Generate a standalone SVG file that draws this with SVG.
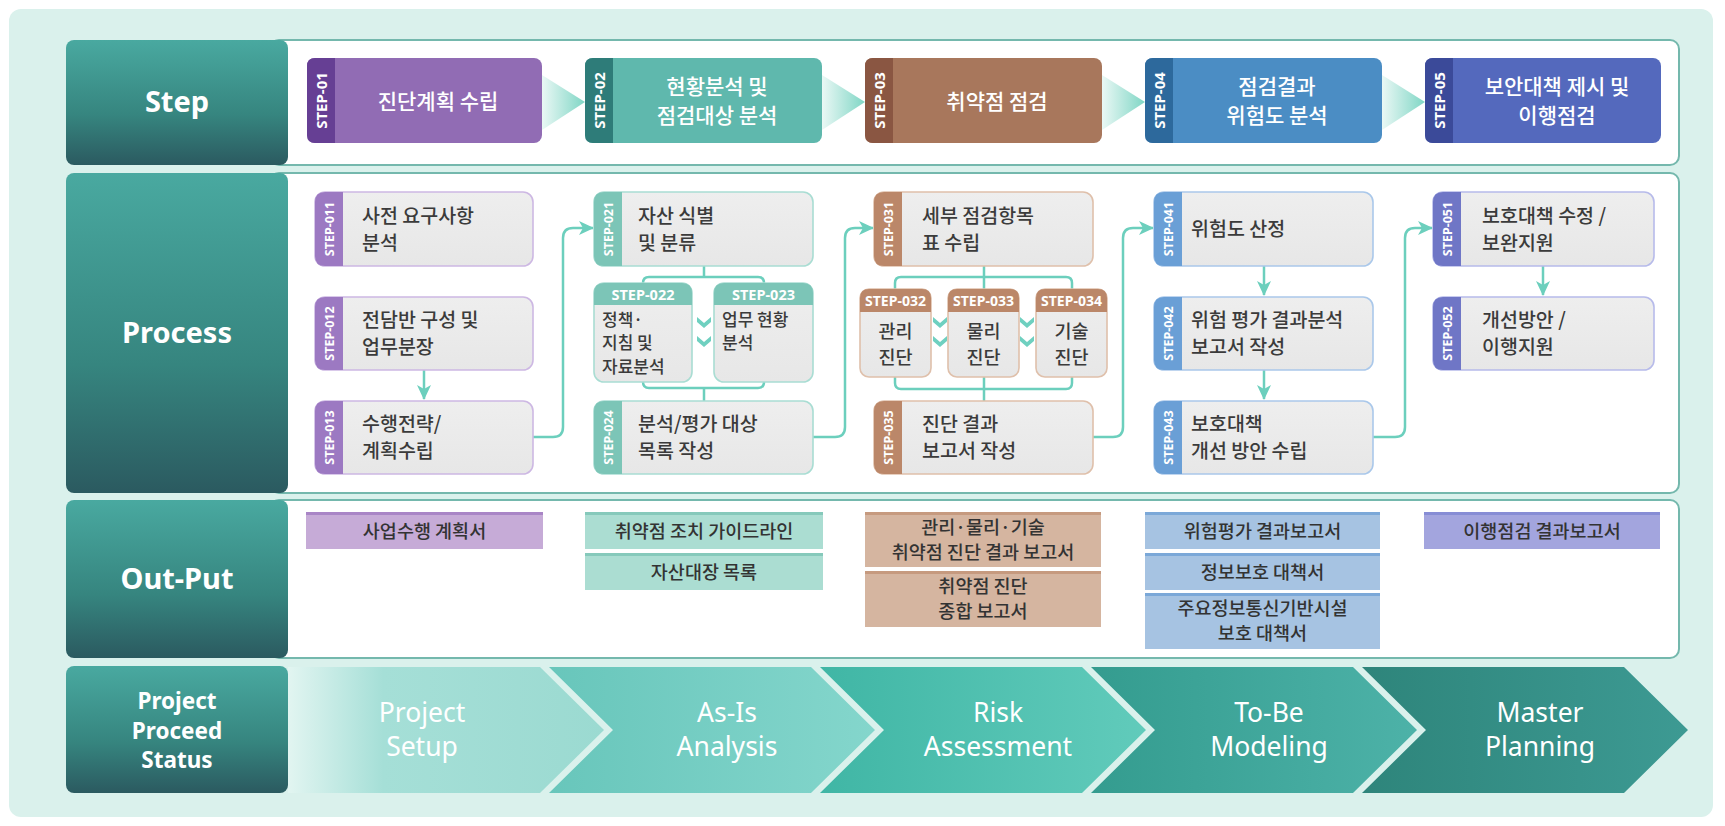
<svg xmlns="http://www.w3.org/2000/svg" width="1725" height="826" viewBox="0 0 1725 826">
<defs>
<style>
.lbl{font-family:"Noto Sans","Noto Sans CJK KR",sans-serif;font-weight:700;fill:#fff;text-anchor:middle}
.st{font-family:"Noto Sans CJK KR","Noto Sans",sans-serif;font-weight:500;font-size:21px;fill:#fff;text-anchor:middle}
.vt{font-family:"Noto Sans","Noto Sans CJK KR",sans-serif;font-weight:700;fill:#fff;text-anchor:middle;dominant-baseline:central}
.pt{font-family:"Noto Sans CJK KR","Noto Sans",sans-serif;font-weight:500;font-size:19.5px;fill:#3b3b3b}
.pts{font-family:"Noto Sans CJK KR","Noto Sans",sans-serif;font-weight:500;font-size:17px;fill:#3b3b3b}
.ptc{font-family:"Noto Sans CJK KR","Noto Sans",sans-serif;font-weight:500;font-size:18.5px;fill:#3b3b3b;text-anchor:middle}
.ht{font-family:"Noto Sans","Noto Sans CJK KR",sans-serif;font-weight:700;fill:#fff;text-anchor:middle}
.ot{font-family:"Noto Sans CJK KR","Noto Sans",sans-serif;font-weight:500;font-size:18.5px;fill:#333;text-anchor:middle}
.ct{font-family:"Noto Sans","Noto Sans CJK KR",sans-serif;font-weight:400;font-size:26.5px;fill:#fff;text-anchor:middle}
.panel{fill:#fff;stroke:#74b8ad;stroke-width:2}
.pbox{fill:url(#gbox);stroke-width:1.6}
.conn{fill:none;stroke:#6ccfbd;stroke-width:2.5}
</style>
<linearGradient id="glab" x1="0" y1="0" x2="0" y2="1"><stop offset="0" stop-color="#49a9a0"/><stop offset="0.6" stop-color="#36857f"/><stop offset="1" stop-color="#2b5a60"/></linearGradient>
<linearGradient id="gbox" x1="0" y1="0" x2="0" y2="1"><stop offset="0" stop-color="#eeeeee"/><stop offset="1" stop-color="#e7e7e7"/></linearGradient>
<linearGradient id="gtri" x1="0" y1="0" x2="1" y2="0"><stop offset="0" stop-color="#eaf8f5"/><stop offset="1" stop-color="#7fd6c5"/></linearGradient>
<linearGradient id="gc1" gradientUnits="userSpaceOnUse" x1="288" y1="0" x2="606" y2="0"><stop offset="0" stop-color="#e2f5f1"/><stop offset="0.3" stop-color="#a5dfd7"/><stop offset="1" stop-color="#9bdad1"/></linearGradient>
<linearGradient id="gc2" gradientUnits="userSpaceOnUse" x1="549" y1="0" x2="875" y2="0"><stop offset="0" stop-color="#68c6bb"/><stop offset="1" stop-color="#84d6cc"/></linearGradient>
<linearGradient id="gc3" gradientUnits="userSpaceOnUse" x1="820" y1="0" x2="1146" y2="0"><stop offset="0" stop-color="#40b6a5"/><stop offset="1" stop-color="#61cbbb"/></linearGradient>
<linearGradient id="gc4" gradientUnits="userSpaceOnUse" x1="1091" y1="0" x2="1417" y2="0"><stop offset="0" stop-color="#349c8f"/><stop offset="1" stop-color="#4db2a8"/></linearGradient>
<linearGradient id="gc5" gradientUnits="userSpaceOnUse" x1="1362" y1="0" x2="1688" y2="0"><stop offset="0" stop-color="#2e857b"/><stop offset="1" stop-color="#3d9a93"/></linearGradient>
<marker id="ah" markerUnits="userSpaceOnUse" markerWidth="16" markerHeight="16" refX="14" refY="8" orient="auto"><path d="M0,1 L15,8 L0,15 L4,8 Z" fill="#6ccfbd"/></marker>
<path id="dv" d="M-7,-5 L0,1 L7,-5 L7,0 L0,6 L-7,0 Z" fill="#6fd0c0"/>
</defs>

<rect x="9" y="9" width="1704" height="808" rx="12" fill="#daf1ec"/>

<g id="panels">
<rect class="panel" x="270" y="40" width="1409" height="125" rx="9"/>
<rect class="panel" x="270" y="173" width="1409" height="320" rx="9"/>
<rect class="panel" x="270" y="500" width="1409" height="158" rx="9"/>
</g>

<g id="row-step"><rect x="66" y="40" width="222" height="125" rx="8" fill="url(#glab)"/><text class="lbl" x="177" y="112" font-size="29">Step</text></g>
<g id="row-process"><rect x="66" y="173" width="222" height="320" rx="8" fill="url(#glab)"/><text class="lbl" x="177" y="343" font-size="29">Process</text></g>
<g id="row-output"><rect x="66" y="500" width="222" height="158" rx="8" fill="url(#glab)"/><text class="lbl" x="177" y="589" font-size="29">Out-Put</text></g>
<g id="row-status"><rect x="66" y="666" width="222" height="127" rx="8" fill="url(#glab)"/><text class="lbl" font-size="22.5"><tspan x="177" y="709">Project</tspan><tspan x="177" y="738.5">Proceed</tspan><tspan x="177" y="768">Status</tspan></text></g>

<g id="step-arrows">
<polygon points="542,75 585,102 542,130" fill="url(#gtri)"/>
<polygon points="822,75 865,102 822,130" fill="url(#gtri)"/>
<polygon points="1102,75 1145,102 1102,130" fill="url(#gtri)"/>
<polygon points="1382,75 1425,102 1382,130" fill="url(#gtri)"/>
</g>

<g id="step-01"><rect x="307" y="58" width="235" height="85" rx="8" fill="#916cb4"/><path d="M335,58 H315 Q307,58 307,66 V135 Q307,143 315,143 H335 Z" fill="#663f94"/><text class="vt" font-size="15" transform="translate(321,100.5) rotate(-90)">STEP-01</text><text class="st" x="438" y="109">진단계획 수립</text></g>
<g id="step-02"><rect x="585" y="58" width="237" height="85" rx="8" fill="#5fb8ad"/><path d="M613,58 H593 Q585,58 585,66 V135 Q585,143 593,143 H613 Z" fill="#2e7c79"/><text class="vt" font-size="15" transform="translate(599,100.5) rotate(-90)">STEP-02</text><text class="st"><tspan x="717" y="94">현황분석 및</tspan><tspan x="717" y="123">점검대상 분석</tspan></text></g>
<g id="step-03"><rect x="865" y="58" width="237" height="85" rx="8" fill="#a8775c"/><path d="M893,58 H873 Q865,58 865,66 V135 Q865,143 873,143 H893 Z" fill="#8a5642"/><text class="vt" font-size="15" transform="translate(879,100.5) rotate(-90)">STEP-03</text><text class="st" x="997" y="109">취약점 점검</text></g>
<g id="step-04"><rect x="1145" y="58" width="237" height="85" rx="8" fill="#4b8dc4"/><path d="M1173,58 H1153 Q1145,58 1145,66 V135 Q1145,143 1153,143 H1173 Z" fill="#2d699c"/><text class="vt" font-size="15" transform="translate(1159,100.5) rotate(-90)">STEP-04</text><text class="st"><tspan x="1277" y="94">점검결과</tspan><tspan x="1277" y="123">위험도 분석</tspan></text></g>
<g id="step-05"><rect x="1425" y="58" width="236" height="85" rx="8" fill="#5469bd"/><path d="M1453,58 H1433 Q1425,58 1425,66 V135 Q1425,143 1433,143 H1453 Z" fill="#3b4a99"/><text class="vt" font-size="15" transform="translate(1439,100.5) rotate(-90)">STEP-05</text><text class="st"><tspan x="1557" y="94">보안대책 제시 및</tspan><tspan x="1557" y="123">이행점검</tspan></text></g>

<g id="connectors">
<path class="conn" d="M424,370 V399" marker-end="url(#ah)"/>
<path class="conn" d="M533,437 H553 Q563,437 563,427 V238 Q563,228 573,228 H593" marker-end="url(#ah)"/>
<path class="conn" d="M704,266 V277 M643,283 Q643,277 649,277 H758 Q764,277 764,283"/>
<path class="conn" d="M643,382 Q643,388 649,388 H758 Q764,388 764,382 M704,388 V401"/>
<path class="conn" d="M813,437 H835 Q845,437 845,427 V238 Q845,228 855,228 H873" marker-end="url(#ah)"/>
<path class="conn" d="M984,266 V289 M895,289 V283 Q895,277 901,277 H1066 Q1072,277 1072,283 V289"/>
<path class="conn" d="M895,377 V383 Q895,389 901,389 H1066 Q1072,389 1072,383 V377 M984,377 V401"/>
<path class="conn" d="M1093,437 H1113 Q1123,437 1123,427 V238 Q1123,228 1133,228 H1153" marker-end="url(#ah)"/>
<path class="conn" d="M1264,266 V295" marker-end="url(#ah)"/>
<path class="conn" d="M1264,370 V399" marker-end="url(#ah)"/>
<path class="conn" d="M1373,437 H1395 Q1405,437 1405,427 V238 Q1405,228 1415,228 H1432" marker-end="url(#ah)"/>
<path class="conn" d="M1543,266 V295" marker-end="url(#ah)"/>
<use href="#dv" x="704" y="322"/><use href="#dv" x="704" y="341"/>
<use href="#dv" x="940" y="322"/><use href="#dv" x="940" y="341"/>
<use href="#dv" x="1027" y="322"/><use href="#dv" x="1027" y="341"/>
</g>

<g id="step-011"><rect class="pbox" x="315" y="192" width="218" height="74" rx="10" stroke="#cdb8e3"/><path d="M343,192 H325 Q315,192 315,202 V256 Q315,266 325,266 H343 Z" fill="#9c79c2"/><text class="vt" font-size="12.5" transform="translate(329,229) rotate(-90)">STEP-011</text><text class="pt"><tspan x="362" y="222.5">사전 요구사항</tspan><tspan x="362" y="249.5">분석</tspan></text></g>
<g id="step-012"><rect class="pbox" x="315" y="297" width="218" height="73" rx="10" stroke="#cdb8e3"/><path d="M343,297 H325 Q315,297 315,307 V360 Q315,370 325,370 H343 Z" fill="#9c79c2"/><text class="vt" font-size="12.5" transform="translate(329,333.5) rotate(-90)">STEP-012</text><text class="pt"><tspan x="362" y="327">전담반 구성 및</tspan><tspan x="362" y="354">업무분장</tspan></text></g>
<g id="step-013"><rect class="pbox" x="315" y="401" width="218" height="73" rx="10" stroke="#cdb8e3"/><path d="M343,401 H325 Q315,401 315,411 V464 Q315,474 325,474 H343 Z" fill="#9c79c2"/><text class="vt" font-size="12.5" transform="translate(329,437.5) rotate(-90)">STEP-013</text><text class="pt"><tspan x="362" y="431">수행전략/</tspan><tspan x="362" y="458">계획수립</tspan></text></g>

<g id="step-021"><rect class="pbox" x="594" y="192" width="219" height="74" rx="10" stroke="#a9ddd3"/><path d="M622,192 H604 Q594,192 594,202 V256 Q594,266 604,266 H622 Z" fill="#7cc5b7"/><text class="vt" font-size="12.5" transform="translate(608,229) rotate(-90)">STEP-021</text><text class="pt"><tspan x="638" y="222.5">자산 식별</tspan><tspan x="638" y="249.5">및 분류</tspan></text></g>
<g id="step-022"><rect class="pbox" x="594" y="283" width="98" height="99" rx="10" stroke="#a9ddd3"/><path d="M594,305 V293 Q594,283 604,283 H682 Q692,283 692,293 V305 Z" fill="#7cc5b7"/><text class="ht" font-size="14.5" x="643" y="299.5">STEP-022</text><text class="pts"><tspan x="602" y="325.5">정책·</tspan><tspan x="602" y="349">지침 및</tspan><tspan x="602" y="372.5">자료분석</tspan></text></g>
<g id="step-023"><rect class="pbox" x="714" y="283" width="99" height="99" rx="10" stroke="#a9ddd3"/><path d="M714,305 V293 Q714,283 724,283 H803 Q813,283 813,293 V305 Z" fill="#7cc5b7"/><text class="ht" font-size="14.5" x="763.5" y="299.5">STEP-023</text><text class="pts"><tspan x="722" y="325.5">업무 현황</tspan><tspan x="722" y="349">분석</tspan></text></g>
<g id="step-024"><rect class="pbox" x="594" y="401" width="219" height="73" rx="10" stroke="#a9ddd3"/><path d="M622,401 H604 Q594,401 594,411 V464 Q594,474 604,474 H622 Z" fill="#7cc5b7"/><text class="vt" font-size="12.5" transform="translate(608,437.5) rotate(-90)">STEP-024</text><text class="pt"><tspan x="638" y="431">분석/평가 대상</tspan><tspan x="638" y="458">목록 작성</tspan></text></g>

<g id="step-031"><rect class="pbox" x="874" y="192" width="219" height="74" rx="10" stroke="#dfc0ab"/><path d="M902,192 H884 Q874,192 874,202 V256 Q874,266 884,266 H902 Z" fill="#bb8769"/><text class="vt" font-size="12.5" transform="translate(888,229) rotate(-90)">STEP-031</text><text class="pt"><tspan x="922" y="222.5">세부 점검항목</tspan><tspan x="922" y="249.5">표 수립</tspan></text></g>
<g id="step-032"><rect class="pbox" x="860" y="289" width="71" height="88" rx="9" stroke="#dfc0ab"/><path d="M860,312 V298 Q860,289 869,289 H922 Q931,289 931,298 V312 Z" fill="#bb8769"/><text class="ht" font-size="14" x="895.5" y="305.5">STEP-032</text><text class="ptc"><tspan x="895.5" y="338">관리</tspan><tspan x="895.5" y="363.5">진단</tspan></text></g>
<g id="step-033"><rect class="pbox" x="948" y="289" width="71" height="88" rx="9" stroke="#dfc0ab"/><path d="M948,312 V298 Q948,289 957,289 H1010 Q1019,289 1019,298 V312 Z" fill="#bb8769"/><text class="ht" font-size="14" x="983.5" y="305.5">STEP-033</text><text class="ptc"><tspan x="983.5" y="338">물리</tspan><tspan x="983.5" y="363.5">진단</tspan></text></g>
<g id="step-034"><rect class="pbox" x="1036" y="289" width="71" height="88" rx="9" stroke="#dfc0ab"/><path d="M1036,312 V298 Q1036,289 1045,289 H1098 Q1107,289 1107,298 V312 Z" fill="#bb8769"/><text class="ht" font-size="14" x="1071.5" y="305.5">STEP-034</text><text class="ptc"><tspan x="1071.5" y="338">기술</tspan><tspan x="1071.5" y="363.5">진단</tspan></text></g>
<g id="step-035"><rect class="pbox" x="874" y="401" width="219" height="73" rx="10" stroke="#dfc0ab"/><path d="M902,401 H884 Q874,401 874,411 V464 Q874,474 884,474 H902 Z" fill="#bb8769"/><text class="vt" font-size="12.5" transform="translate(888,437.5) rotate(-90)">STEP-035</text><text class="pt"><tspan x="922" y="431">진단 결과</tspan><tspan x="922" y="458">보고서 작성</tspan></text></g>

<g id="step-041"><rect class="pbox" x="1154" y="192" width="219" height="74" rx="10" stroke="#aac8ea"/><path d="M1182,192 H1164 Q1154,192 1154,202 V256 Q1154,266 1164,266 H1182 Z" fill="#6a9fd6"/><text class="vt" font-size="12.5" transform="translate(1168,229) rotate(-90)">STEP-041</text><text class="pt" x="1191" y="236">위험도 산정</text></g>
<g id="step-042"><rect class="pbox" x="1154" y="297" width="219" height="73" rx="10" stroke="#aac8ea"/><path d="M1182,297 H1164 Q1154,297 1154,307 V360 Q1154,370 1164,370 H1182 Z" fill="#6a9fd6"/><text class="vt" font-size="12.5" transform="translate(1168,333.5) rotate(-90)">STEP-042</text><text class="pt"><tspan x="1191" y="327">위험 평가 결과분석</tspan><tspan x="1191" y="354">보고서 작성</tspan></text></g>
<g id="step-043"><rect class="pbox" x="1154" y="401" width="219" height="73" rx="10" stroke="#aac8ea"/><path d="M1182,401 H1164 Q1154,401 1154,411 V464 Q1154,474 1164,474 H1182 Z" fill="#6a9fd6"/><text class="vt" font-size="12.5" transform="translate(1168,437.5) rotate(-90)">STEP-043</text><text class="pt"><tspan x="1191" y="431">보호대책</tspan><tspan x="1191" y="458">개선 방안 수립</tspan></text></g>

<g id="step-051"><rect class="pbox" x="1433" y="192" width="221" height="74" rx="10" stroke="#b7bbea"/><path d="M1461,192 H1443 Q1433,192 1433,202 V256 Q1433,266 1443,266 H1461 Z" fill="#6f76c6"/><text class="vt" font-size="12.5" transform="translate(1447,229) rotate(-90)">STEP-051</text><text class="pt"><tspan x="1482" y="222.5">보호대책 수정 /</tspan><tspan x="1482" y="249.5">보완지원</tspan></text></g>
<g id="step-052"><rect class="pbox" x="1433" y="297" width="221" height="73" rx="10" stroke="#b7bbea"/><path d="M1461,297 H1443 Q1433,297 1433,307 V360 Q1433,370 1443,370 H1461 Z" fill="#6f76c6"/><text class="vt" font-size="12.5" transform="translate(1447,333.5) rotate(-90)">STEP-052</text><text class="pt"><tspan x="1482" y="327">개선방안 /</tspan><tspan x="1482" y="354">이행지원</tspan></text></g>

<g id="out-1"><rect x="306" y="512" width="237" height="37" fill="#c6abd7"/><rect x="306" y="512" width="237" height="3" fill="#a985c6"/><text class="ot" x="424.5" y="538">사업수행 계획서</text></g>
<g id="out-2a"><rect x="585" y="512" width="238" height="37" fill="#abddd2"/><rect x="585" y="512" width="238" height="3" fill="#86c9bb"/><text class="ot" x="704" y="538">취약점 조치 가이드라인</text></g>
<g id="out-2b"><rect x="585" y="553" width="238" height="37" fill="#abddd2"/><rect x="585" y="553" width="238" height="3" fill="#86c9bb"/><text class="ot" x="704" y="579">자산대장 목록</text></g>
<g id="out-3a"><rect x="865" y="512" width="236" height="55" fill="#d5b5a0"/><rect x="865" y="512" width="236" height="3" fill="#c69a7f"/><text class="ot"><tspan x="983" y="533.5">관리·물리·기술</tspan><tspan x="983" y="559">취약점 진단 결과 보고서</tspan></text></g>
<g id="out-3b"><rect x="865" y="571" width="236" height="56" fill="#d5b5a0"/><rect x="865" y="571" width="236" height="3" fill="#c69a7f"/><text class="ot"><tspan x="983" y="592.5">취약점 진단</tspan><tspan x="983" y="618">종합 보고서</tspan></text></g>
<g id="out-4a"><rect x="1145" y="512" width="235" height="37" fill="#a6c3e2"/><rect x="1145" y="512" width="235" height="3" fill="#7ba8d8"/><text class="ot" x="1262.5" y="538">위험평가 결과보고서</text></g>
<g id="out-4b"><rect x="1145" y="553" width="235" height="37" fill="#a6c3e2"/><rect x="1145" y="553" width="235" height="3" fill="#7ba8d8"/><text class="ot" x="1262.5" y="579">정보보호 대책서</text></g>
<g id="out-4c"><rect x="1145" y="593" width="235" height="56" fill="#a6c3e2"/><rect x="1145" y="593" width="235" height="3" fill="#7ba8d8"/><text class="ot"><tspan x="1262.5" y="614.5">주요정보통신기반시설</tspan><tspan x="1262.5" y="640">보호 대책서</tspan></text></g>
<g id="out-5"><rect x="1424" y="512" width="236" height="37" fill="#a3a5de"/><rect x="1424" y="512" width="236" height="3" fill="#878dd5"/><text class="ot" x="1542" y="538">이행점검 결과보고서</text></g>

<g id="phase-1"><polygon points="288,667 540,667 604,730 540,793 288,793" fill="url(#gc1)"/><text class="ct"><tspan x="422" y="721.5">Project</tspan><tspan x="422" y="756">Setup</tspan></text></g>
<g id="phase-2"><polygon points="549,667 811,667 875,730 811,793 549,793 613,730" fill="url(#gc2)"/><text class="ct"><tspan x="727" y="721.5">As-Is</tspan><tspan x="727" y="756">Analysis</tspan></text></g>
<g id="phase-3"><polygon points="820,667 1082,667 1146,730 1082,793 820,793 884,730" fill="url(#gc3)"/><text class="ct"><tspan x="998" y="721.5">Risk</tspan><tspan x="998" y="756">Assessment</tspan></text></g>
<g id="phase-4"><polygon points="1091,667 1353,667 1417,730 1353,793 1091,793 1155,730" fill="url(#gc4)"/><text class="ct"><tspan x="1269" y="721.5">To-Be</tspan><tspan x="1269" y="756">Modeling</tspan></text></g>
<g id="phase-5"><polygon points="1362,667 1624,667 1688,730 1624,793 1362,793 1426,730" fill="url(#gc5)"/><text class="ct"><tspan x="1540" y="721.5">Master</tspan><tspan x="1540" y="756">Planning</tspan></text></g>
</svg>
